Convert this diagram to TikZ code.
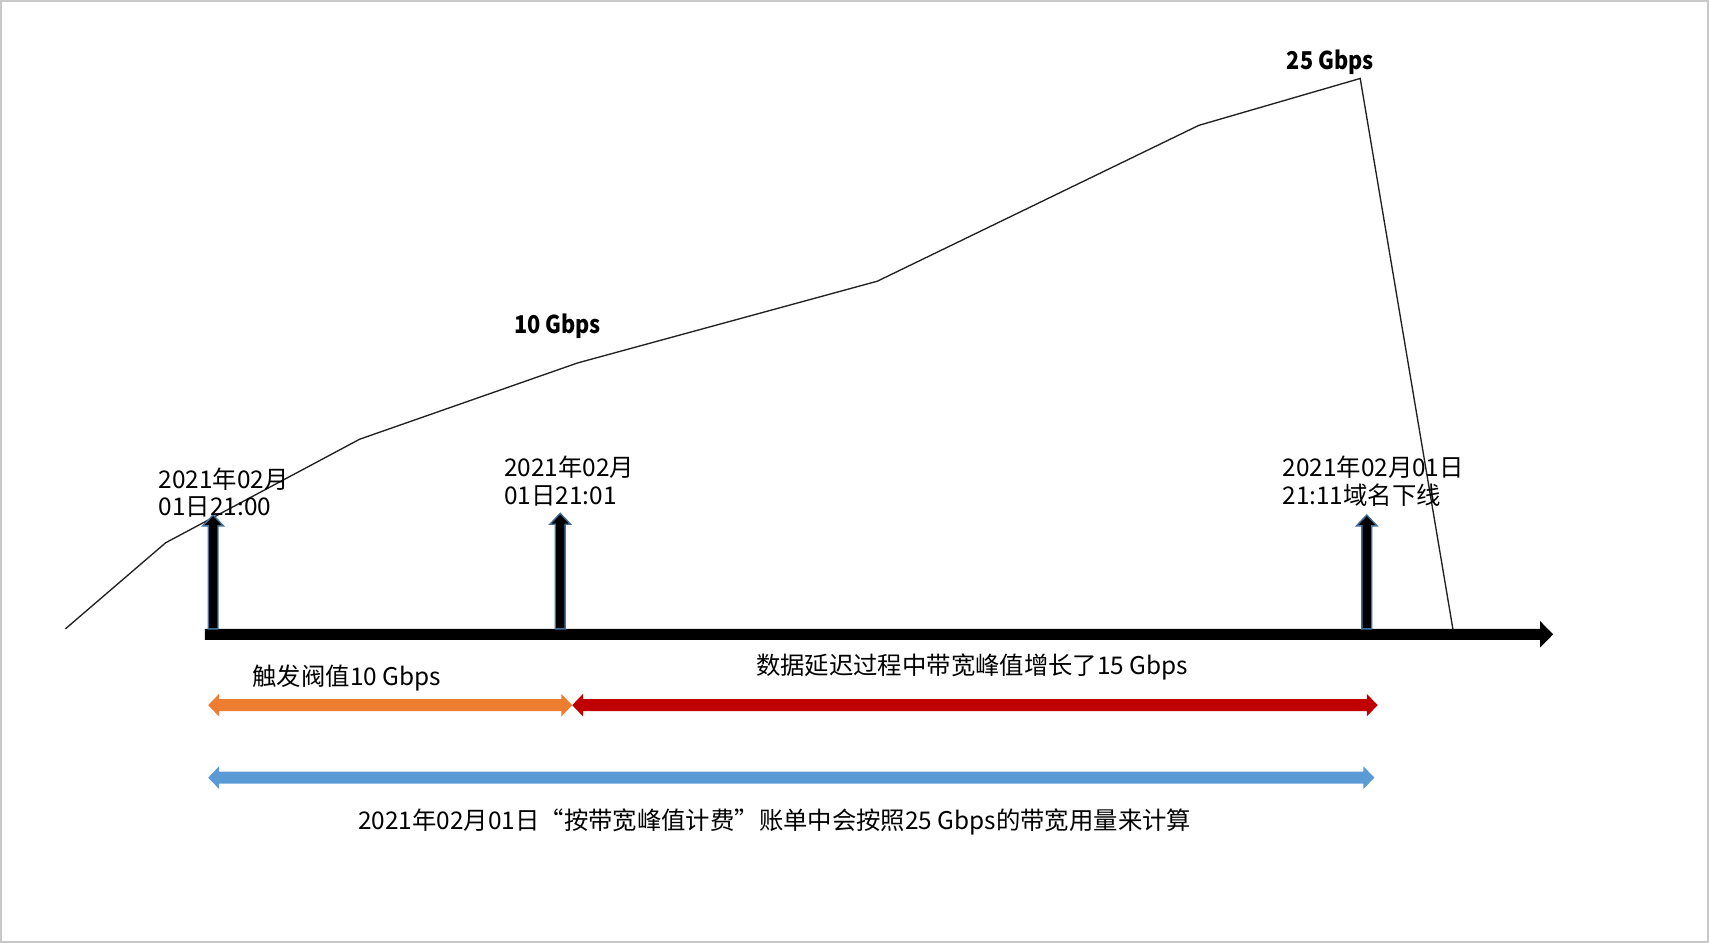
\documentclass[tikz,border=0pt]{standalone}
\usepackage{fontspec}
\setmainfont{Noto Sans CJK SC}
\definecolor{cOrange}{HTML}{ED7D31}
\definecolor{cRed}{HTML}{C00000}
\definecolor{cBlue}{HTML}{5B9BD5}
\definecolor{cEdge}{HTML}{41719C}
\definecolor{cFrame}{HTML}{C8C8C8}
\definecolor{cLine}{HTML}{202020}
% double-headed block arrow: x0, x1, y-centre, colour
\newcommand\dblarr[4]{\fill[#4] (#1,#3) -- (#1+10,#3-10.4) -- (#1+10,#3-5.5) -- (#2-10,#3-5.5) -- (#2-10,#3-10.4) -- (#2,#3) -- (#2-10,#3+10.4) -- (#2-10,#3+5.5) -- (#1+10,#3+5.5) -- (#1+10,#3+10.4) -- cycle;}
% upward block arrow: x, base y, tip y
\newcommand\uparr[3]{\filldraw[fill=black, draw=cEdge, line width=0.35pt] (#1-4.5,#2) -- (#1-4.5,#3+10) -- (#1-9.5,#3+10) -- (#1,#3) -- (#1+9.5,#3+10) -- (#1+4.5,#3+10) -- (#1+4.5,#2) -- cycle;}
\begin{document}
\begin{tikzpicture}[x=0.01cm, y=-0.01cm,
  txt/.style={inner sep=0pt, anchor=base west, font=\fontsize{6.36pt}{7pt}\selectfont},
  btxt/.style={txt, font=\fontsize{6.4pt}{7.2pt}\selectfont\bfseries, transform shape, xscale=0.885}]
\useasboundingbox (0,0) rectangle (1568,865);
\draw[cFrame, line width=0.4pt] (0.8,0.8) rectangle (1567.2,864.2);

% traffic curve
\coordinate (p0) at (60,577);
\coordinate (p1) at (152,498);
\coordinate (p2) at (330,403);
\coordinate (p3) at (530,333);
\coordinate (p4) at (805,258);
\coordinate (p5) at (1100,115);
\coordinate (p6) at (1248,72);
\coordinate (p7) at (1333,577);
\draw[cLine, line width=0.35pt] (p0) -- (p1) -- (p2) -- (p3) -- (p4) -- (p5) -- (p6) -- (p7);

% time axis
\coordinate (axs) at (188,582);
\coordinate (axe) at (1425,582);
\fill[black] (188,577) -- (1413,577) -- (1413,569.8) -- (1425,582) -- (1413,594.2) -- (1413,587) -- (188,587) -- cycle;

% event arrows
\uparr{195.5}{577}{472.5}
\uparr{514}{577}{471}
\uparr{1254}{577}{472.5}

% labels of events
\node[txt] (t1a) at (145,448) {2021年02月};
\node[txt] (t1b) at (145,473.3) {01日21:00};
\node[txt] (t2a) at (462,437.4) {2021年02月};
\node[txt] (t2b) at (462,462.7) {01日21:01};
\node[txt] (t3a) at (1176,437.4) {2021年02月01日};
\node[txt] (t3b) at (1176,462.7) {21:11域名下线};

% peak labels
\node[btxt] (g10) at (471,306) {10 Gbps};
\node[btxt] (g25) at (1180,64) {25 Gbps};

% span arrows
\dblarr{191}{525}{647}{cOrange}
\dblarr{525}{1264}{647}{cRed}
\dblarr{191}{1261}{713.5}{cBlue}

\node[txt] (s1) at (231,628.5) {触发阀值10 Gbps};
\node[txt] (s2) at (693,619.3) {数据延迟过程中带宽峰值增长了15 Gbps};
\node[txt] (s3) at (328,761) {2021年02月01日“按带宽峰值计费”账单中会按照25 Gbps的带宽用量来计算};
\end{tikzpicture}
\end{document}
